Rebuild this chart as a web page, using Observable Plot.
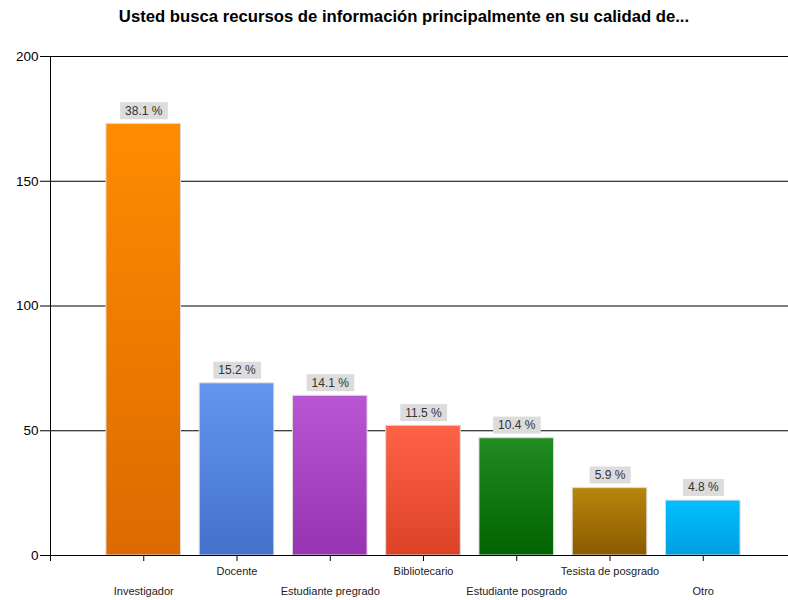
<!DOCTYPE html>
<html><head><meta charset="utf-8">
<script src="https://cdn.jsdelivr.net/npm/d3@7"></script>
<script src="https://cdn.jsdelivr.net/npm/@observablehq/plot@0.6"></script>
<style>
body{margin:0;background:#fff;font-family:"Liberation Sans",Arial,sans-serif}
#title{height:40px;box-sizing:border-box;padding-top:7px;padding-left:20px;text-align:center;font-weight:bold;font-size:16.7px;color:#000;line-height:20px}
#chart svg{display:block}
</style></head><body>
<div id="title">Usted busca recursos de información principalmente en su calidad de...</div>
<div id="chart"></div>
<script>
const categories = ["Investigador","Docente","Estudiante pregrado","Bibliotecario","Estudiante posgrado","Tesista de posgrado","Otro"];
const counts = [173, 69, 64, 52, 47, 27, 22];
const percentLabels = ["38.1 %","15.2 %","14.1 %","11.5 %","10.4 %","5.9 %","4.8 %"];
const colorsTop = ["#FF8C00","#6495ED","#BA55D3","#FF6347","#228B22","#B8860B","#00BFFF"];
const colorsBottom = ["#DC6A00","#4472CB","#9734B2","#DC4226","#006400","#8A5B00","#009FE0"];
const yTicks = [0, 50, 100, 150, 200];
const gridValues = [50, 100, 150, 200];

const data = categories.map((c, i) => ({cat: c, i, pos: i + 1, count: counts[i], label: percentLabels[i], grad: `url(#barGrad${i})`}));

const defs = () => {
  const d = d3.create("svg:defs");
  categories.forEach((c, i) => {
    const g = d.append("linearGradient").attr("id", `barGrad${i}`).attr("x1", 0).attr("y1", 0).attr("x2", 0).attr("y2", 1);
    g.append("stop").attr("offset", "0%").attr("stop-color", colorsTop[i]);
    g.append("stop").attr("offset", "100%").attr("stop-color", colorsBottom[i]);
  });
  return d.node();
};

const chart = Plot.plot({
  width: 788,
  height: 560,
  marginTop: 16,
  marginBottom: 45,
  marginLeft: 50,
  marginRight: 0,
  style: {fontFamily: "'Liberation Sans', Arial, sans-serif", background: "#fff"},
  x: {type: "linear", domain: [0, 8], range: [50, 796], axis: null, label: null},
  y: {domain: [0, 200], axis: null, label: null},
  color: {type: "identity"},
  marks: [
    defs,
    Plot.ruleY(gridValues, {stroke: "#000", strokeWidth: 1}),
    Plot.rectY(data, {x1: d => d.pos - 0.4, x2: d => d.pos + 0.4, y1: 0, y2: "count", fill: "grad", stroke: "#dcdcdc", strokeWidth: 1}),
    Plot.ruleY([0], {stroke: "#000", strokeWidth: 1}),
    Plot.ruleX([0], {stroke: "#000", strokeWidth: 1}),
    Plot.axisX([0, ...data.map(d => d.pos)], {tickSize: 6, tickFormat: () => "", stroke: "#000", label: null}),
    Plot.axisY(yTicks, {tickSize: 10, tickPadding: 2, fontSize: 13.5, fill: "#000", stroke: "#000", tickFormat: d => String(d), label: null}),
    Plot.text(data.filter(d => d.i % 2 === 1), {x: "pos", y: 0, text: "cat", dy: 16, fontSize: 11, fill: "#222", lineAnchor: "middle"}),
    Plot.text(data.filter(d => d.i % 2 === 0), {x: "pos", y: 0, text: "cat", dy: 36, fontSize: 11, fill: "#222", lineAnchor: "middle"}),
    Plot.text(data, {x: "pos", y: "count", text: "label", dy: -13, fontSize: 12, fill: "#333", lineAnchor: "middle", className: "pctlbl"})
  ]
});
document.getElementById("chart").append(chart);

// grey boxes behind percentage labels
d3.select(chart).selectAll("g.pctlbl text").each(function() {
  const b = this.getBBox();
  const t = this.getAttribute("transform");
  const r = document.createElementNS("http://www.w3.org/2000/svg", "rect");
  const w = b.width + 10, h = 17;
  r.setAttribute("x", b.x + b.width / 2 - w / 2);
  r.setAttribute("y", b.y + b.height / 2 - h / 2);
  r.setAttribute("width", w);
  r.setAttribute("height", h);
  r.setAttribute("fill", "#dcdcdc");
  r.setAttribute("stroke", "none");
  if (t) r.setAttribute("transform", t);
  this.parentNode.insertBefore(r, this);
});
</script>
</body></html>
